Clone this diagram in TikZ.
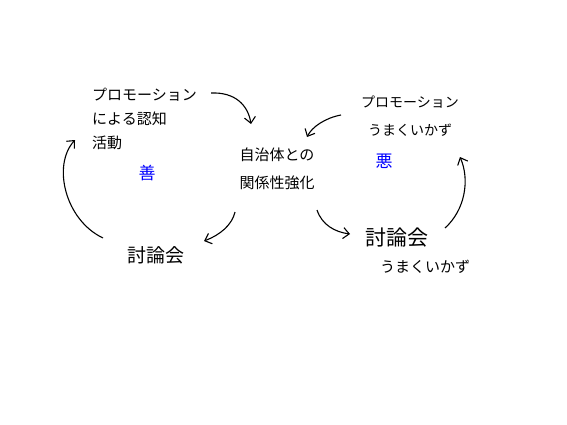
\documentclass[tikz,border=0pt]{standalone}
\usepackage{fontspec}
\setmainfont{Noto Sans CJK JP}
\usetikzlibrary{arrows.meta}

\begin{document}
\begin{tikzpicture}[x=1pt,y=-1pt,>={Straight Barb[length=6pt,width=11pt]},
  txt/.style={inner sep=0pt,font=\fontsize{15}{24}\selectfont},
  arr/.style={->,line width=1.1pt}]
\useasboundingbox (0,0) rectangle (567,425);
\node[txt,align=left,anchor=west] (promo) at (92,119) {プロモーション\\による認知\\活動};
\node[txt,blue,font=\fontsize{17}{17}\selectfont] (zen) at (147,173) {善};
\node[txt,align=center,font=\fontsize{15}{28}\selectfont] (kankei) at (277,169) {自治体との\\関係性強化};
\node[txt,align=center,font=\fontsize{14}{28}\selectfont] (promoNG) at (410,116) {プロモーション\\うまくいかず};
\node[txt,blue,font=\fontsize{17}{17}\selectfont] (aku) at (384,161) {悪};
\node[txt,font=\fontsize{19}{19}\selectfont] (touron) at (156,255) {討論会};
\node[txt,align=left,anchor=west,font=\fontsize{15}{27}\selectfont] (touronNG) at (365,251) {{\fontsize{21}{21}\selectfont 討論会}\\\hspace*{15pt}うまくいかず};
% arrow ends
\coordinate (a1) at (211,93); \coordinate (b1) at (251,124);
\coordinate (a2) at (341,115); \coordinate (b2) at (307,137);
\coordinate (a3) at (235,212); \coordinate (b3) at (204,241);
\coordinate (a4) at (103,238); \coordinate (b4) at (75,140);
\coordinate (a5) at (317,210); \coordinate (b5) at (350,234);
\coordinate (a6) at (445,228); \coordinate (b6) at (460,157);
\draw[arr] (a1) .. controls (235,92) and (248,105) .. (b1);
\draw[arr] (a2) .. controls (325,118) and (312,127) .. (b2);
\draw[arr] (a3) .. controls (232,225) and (220,235) .. (b3);
\draw[arr] (a4) .. controls (65,220) and (52,165) .. (b4);
\draw[arr] (a5) .. controls (322,225) and (335,232) .. (b5);
\draw[arr] (a6) .. controls (465,210) and (470,180) .. (b6);
\end{tikzpicture}
\end{document}
